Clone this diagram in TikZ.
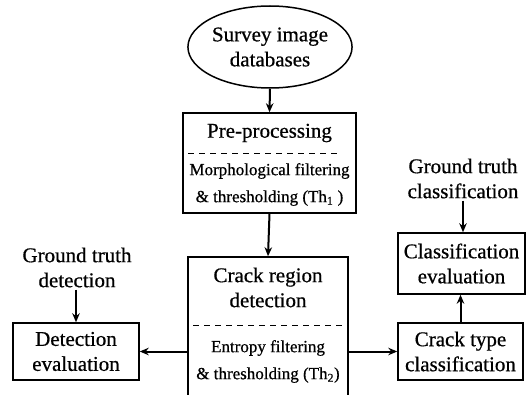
\documentclass[tikz,border=0pt]{standalone}
\usepackage{fontspec}
\setmainfont{Liberation Serif}[FakeBold=0.6]
\usetikzlibrary{arrows.meta,shapes.geometric}

\begin{document}
\begin{tikzpicture}[>={Stealth[length=9pt,width=7.5pt]},x=1pt,y=1pt,
    box/.style={draw,line width=1.5pt,inner sep=0pt},
    bigtext/.style={align=center,font=\fontsize{21}{25}\selectfont},
    smalltext/.style={align=center,font=\fontsize{17}{27}\selectfont},
    link/.style={->,line width=2pt}]
    \useasboundingbox (0,0) rectangle (526,394);
    \clip (0,0) rectangle (526,394);

    % Survey image databases
    \node[ellipse,box,bigtext,minimum width=136pt,minimum height=82pt] (db) at (270,347) {Survey image\\databases};

    % Pre-processing block
    \node[box,minimum width=173pt,minimum height=100pt] (pre) at (269.5,231) {};
    \node[bigtext] (pretitle) at (269.5,261) {Pre-processing};
    \node[smalltext] (premorph) at (269.5,209.5) {Morphological filtering\\\& thresholding (Th\textsubscript{1} )};
    \draw[line width=1pt,dash pattern=on 6pt off 5pt] (188,241) -- (338,241);

    % Crack region detection (runs off the bottom)
    \node[box,minimum width=160pt,minimum height=150pt] (crack) at (268,62) {};
    \node[bigtext] (cracktitle) at (268,106.5) {Crack region\\detection};
    \node[smalltext] (entropy) at (268,32.5) {Entropy filtering\\\& thresholding (Th\textsubscript{2})};
    \draw[line width=1pt,dash pattern=on 6pt off 5pt] (193,69) -- (343,69);

    % Detection side
    \node[box,bigtext,minimum width=126pt,minimum height=57pt] (det) at (76,42.5) {Detection\\evaluation};
    \node[bigtext,inner sep=2pt] (gtd) at (77,126.5) {Ground truth\\detection};

    % Classification side
    \node[box,bigtext,minimum width=125pt,minimum height=57pt] (ctype) at (460.5,42.5) {Crack type\\classification};
    \node[box,bigtext,minimum width=127pt,minimum height=61pt] (ceval) at (461.5,130.5) {Classification\\evaluation};
    \node[bigtext,inner sep=2pt] (gtc) at (463,215.5) {Ground truth\\classification};

    % Connectors
    \draw[link] (db.south) -- (pre.north);
    \draw[link] (pre.south) -- (crack.north);
    \draw[link] (crack.west |- det.east) -- (det.east);
    \draw[link] (crack.east |- ctype.west) -- (ctype.west);
    \draw[link] (ctype.north) -- (ctype.north |- ceval.south);
    \draw[link] (gtd.south -| det.north) -- (det.north);
    \draw[link] (gtc.south) -- (gtc.south |- ceval.north);
\end{tikzpicture}
\end{document}
